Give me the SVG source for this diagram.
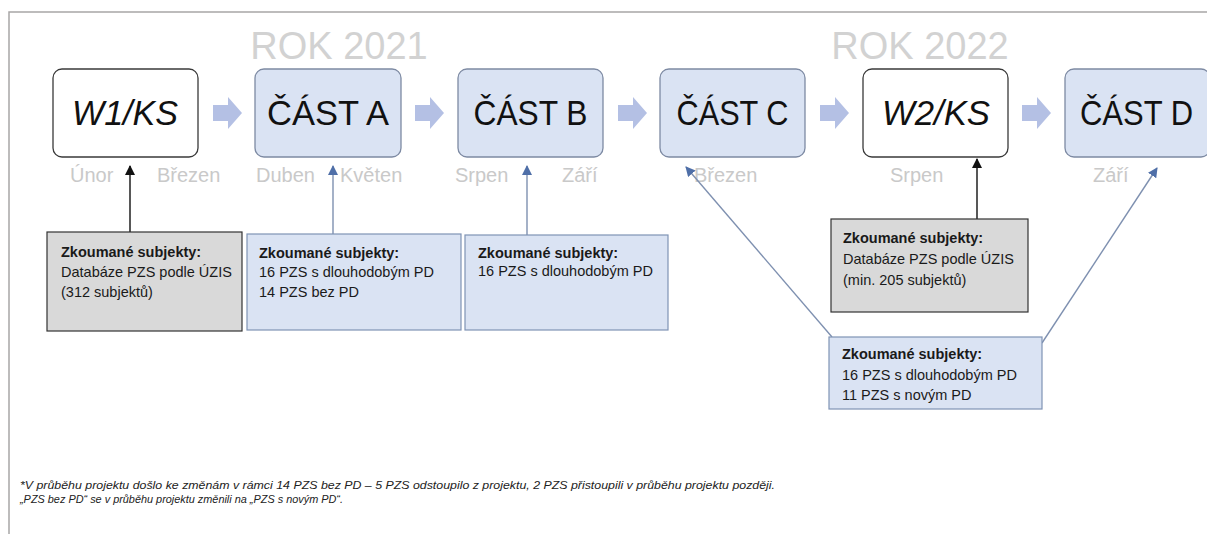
<svg xmlns="http://www.w3.org/2000/svg" width="1207" height="534" viewBox="0 0 1207 534">
<style>
.frame{fill:none;stroke:#a8a6a6;stroke-width:1.5}
.stage{stroke-width:1.3}
.white{fill:#ffffff;stroke:#3a3a3a}
.blue{fill:#dae3f3;stroke:#7d8aa3}
.big{font-family:"Liberation Sans",Arial,sans-serif;font-size:35px;fill:#111;text-anchor:middle}
.it{font-style:italic}
.year{font-family:"Liberation Sans",Arial,sans-serif;font-size:38px;fill:#d2d2d2;text-anchor:middle}
.month{font-family:"Liberation Sans",Arial,sans-serif;font-size:20px;fill:#c9c9c9}
.info{stroke-width:1.2}
.ig{fill:#d9d9d9;stroke:#333333}
.ib{fill:#dae3f3;stroke:#7f93b5}
.t{font-family:"Liberation Sans",Arial,sans-serif;font-size:14.5px;fill:#1a1a1a}
.b{font-weight:bold}
.foot{font-family:"Liberation Sans",Arial,sans-serif;font-size:10.5px;font-style:italic;fill:#222}
.blk{fill:#b4c0e4}
.cb{stroke:#111;stroke-width:1.4;fill:none}
.cu{stroke:#7e90b0;stroke-width:1.4;fill:none}
</style>
<defs>
<polygon id="blockArrow" points="0,-8 15,-8 15,-16 29,0 15,16 15,8 0,8"/>
<marker id="ahBlack" markerWidth="10" markerHeight="10" refX="9" refY="5" orient="auto" markerUnits="userSpaceOnUse">
<path d="M0,0 L10,5 L0,10 Z" fill="#111"/>
</marker>
<marker id="ahBlue" markerWidth="10" markerHeight="10" refX="9" refY="5" orient="auto" markerUnits="userSpaceOnUse">
<path d="M0,0 L10,5 L0,10 Z" fill="#4f6fa8"/>
</marker>
</defs>
<rect width="1207" height="534" fill="#ffffff"/>
<path class="frame" d="M9,540 L9,12 L1210,12"/>

<text class="year" x="339" y="59">ROK 2021</text>
<text class="year" x="920" y="59">ROK 2022</text>

<g id="block-arrows" class="blk">
<use href="#blockArrow" x="213" y="113"/>
<use href="#blockArrow" x="415" y="113"/>
<use href="#blockArrow" x="618" y="113"/>
<use href="#blockArrow" x="820" y="113"/>
<use href="#blockArrow" x="1022" y="113"/>
</g>

<g id="node-w1">
<rect class="stage white" x="53" y="69" width="145" height="88" rx="9"/>
<text class="big it" x="125" y="125" textLength="106" lengthAdjust="spacingAndGlyphs">W1/KS</text>
</g>
<g id="node-a">
<rect class="stage blue" x="255" y="69" width="146" height="88" rx="9"/>
<text class="big" x="328" y="125" textLength="122" lengthAdjust="spacingAndGlyphs">ČÁST A</text>
</g>
<g id="node-b">
<rect class="stage blue" x="458" y="69" width="145" height="88" rx="9"/>
<text class="big" x="530.5" y="125" textLength="114" lengthAdjust="spacingAndGlyphs">ČÁST B</text>
</g>
<g id="node-c">
<rect class="stage blue" x="660" y="69" width="145" height="88" rx="9"/>
<text class="big" x="732.5" y="125" textLength="112" lengthAdjust="spacingAndGlyphs">ČÁST C</text>
</g>
<g id="node-w2">
<rect class="stage white" x="863" y="69" width="145" height="88" rx="9"/>
<text class="big it" x="936" y="125" textLength="108" lengthAdjust="spacingAndGlyphs">W2/KS</text>
</g>
<g id="node-d">
<rect class="stage blue" x="1065" y="69" width="145" height="88" rx="9"/>
<text class="big" x="1136.5" y="125" textLength="113" lengthAdjust="spacingAndGlyphs">ČÁST D</text>
</g>

<g id="months">
<text class="month" x="70" y="182">Únor</text>
<text class="month" x="157" y="182">Březen</text>
<text class="month" x="256" y="182">Duben</text>
<text class="month" x="340" y="182">Květen</text>
<text class="month" x="455" y="182">Srpen</text>
<text class="month" x="562" y="182">Září</text>
<text class="month" x="694" y="182">Březen</text>
<text class="month" x="890" y="182">Srpen</text>
<text class="month" x="1093" y="182">Září</text>
</g>

<g id="connectors">
<line class="cb" x1="130" y1="232" x2="130" y2="166" marker-end="url(#ahBlack)"/>
<line class="cu" x1="333" y1="234" x2="333" y2="166" marker-end="url(#ahBlue)"/>
<line class="cu" x1="527" y1="235" x2="527" y2="166" marker-end="url(#ahBlue)"/>
<line class="cu" x1="832" y1="337" x2="686" y2="167" marker-end="url(#ahBlue)"/>
<line class="cb" x1="977" y1="219" x2="977" y2="159" marker-end="url(#ahBlack)"/>
<line class="cu" x1="1042" y1="343" x2="1157" y2="168" marker-end="url(#ahBlue)"/>
</g>

<g id="info-w1">
<rect class="info ig" x="47" y="232" width="195" height="99"/>
<text class="t b" x="61" y="257">Zkoumané subjekty:</text>
<text class="t" x="61" y="277">Databáze PZS podle ÚZIS</text>
<text class="t" x="61" y="297">(312 subjektů)</text>
</g>
<g id="info-a">
<rect class="info ib" x="247" y="234" width="214" height="96"/>
<text class="t b" x="259" y="258">Zkoumané subjekty:</text>
<text class="t" x="259" y="277">16 PZS s dlouhodobým PD</text>
<text class="t" x="259" y="297">14 PZS bez PD</text>
</g>
<g id="info-b">
<rect class="info ib" x="465" y="235" width="203" height="95"/>
<text class="t b" x="478" y="258">Zkoumané subjekty:</text>
<text class="t" x="478" y="276">16 PZS s dlouhodobým PD</text>
</g>
<g id="info-w2">
<rect class="info ig" x="831" y="219" width="197" height="93"/>
<text class="t b" x="843" y="243">Zkoumané subjekty:</text>
<text class="t" x="843" y="264">Databáze PZS podle ÚZIS</text>
<text class="t" x="843" y="285">(min. 205 subjektů)</text>
</g>
<g id="info-cd">
<rect class="info ib" x="829" y="337" width="213" height="72"/>
<text class="t b" x="842" y="359">Zkoumané subjekty:</text>
<text class="t" x="842" y="380">16 PZS s dlouhodobým PD</text>
<text class="t" x="842" y="400">11 PZS s novým PD</text>
</g>

<g id="footnote">
<text class="foot" x="20" y="489" textLength="755" lengthAdjust="spacingAndGlyphs">*V průběhu projektu došlo ke změnám v rámci 14 PZS bez PD – 5 PZS odstoupilo z projektu, 2 PZS přistoupili v průběhu projektu později.</text>
<text class="foot" x="20" y="503" textLength="323" lengthAdjust="spacingAndGlyphs">„PZS bez PD“ se v průběhu projektu změnili na „PZS s novým PD“.</text>
</g>
</svg>
